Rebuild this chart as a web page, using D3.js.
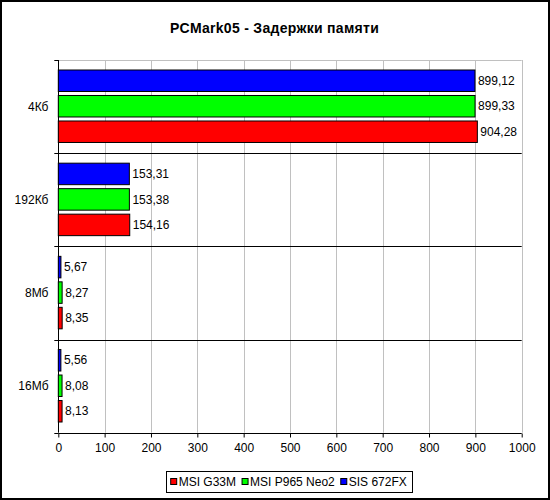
<!DOCTYPE html>
<html>
<head>
<meta charset="utf-8">
<script src="https://cdn.jsdelivr.net/npm/d3@7"></script>
<style>
html,body{margin:0;padding:0;background:#fff;}
svg{display:block;font-family:"Liberation Sans",Arial,sans-serif;}
</style>
</head>
<body>
<svg id="chart" width="550" height="500"></svg>
<script>
const title = "PCMark05 - Задержки памяти";
const categories = ["4Кб", "192Кб", "8Мб", "16Мб"];
const seriesNames = ["MSI G33M", "MSI P965 Neo2", "SIS 672FX"];
const seriesColors = ["#FF0000", "#00FF00", "#0000FF"];
const msiG33M = [904.28, 154.16, 8.35, 8.13];
const msiP965Neo2 = [899.33, 153.38, 8.27, 8.08];
const sis672FX = [899.12, 153.31, 5.67, 5.56];
const xTicks = [0, 100, 200, 300, 400, 500, 600, 700, 800, 900, 1000];

const seriesValues = [msiG33M, msiP965Neo2, sis672FX];
// drawing order top->bottom within a group: SIS, P965, G33M
const stackOrder = [2, 1, 0];

const svg = d3.select("#chart");
const plot = {left: 58.3, right: 521.7, top: 60, bottom: 432.7};

const x = d3.scaleLinear().domain([0, 1000]).range([plot.left, plot.right]);
const y = d3.scaleBand().domain(categories).range([plot.top, plot.bottom]).padding(0);
const bw = y.bandwidth();
const yInner = d3.scaleBand().domain(stackOrder).range([10, bw - 10.7]).paddingInner(0.157).paddingOuter(0);

// background
svg.append("rect").attr("x", 0).attr("y", 0).attr("width", 550).attr("height", 500).attr("fill", "#fff");
svg.append("rect").attr("x", 1).attr("y", 1).attr("width", 548).attr("height", 498)
  .attr("fill", "none").attr("stroke", "#000").attr("stroke-width", 2);

// title
svg.append("text").attr("x", 274.5).attr("y", 32.7).attr("text-anchor", "middle")
  .attr("font-size", "14px").attr("font-weight", "bold").attr("letter-spacing", "0.3px")
  .attr("fill", "#000").text(title);

// gridlines
svg.append("g").selectAll("line").data(xTicks.slice(1)).join("line")
  .attr("x1", d => Math.round(x(d)) + 0.5).attr("x2", d => Math.round(x(d)) + 0.5)
  .attr("y1", plot.top).attr("y2", plot.bottom)
  .attr("stroke", "#c0c0c0").attr("stroke-width", 1);
svg.append("line").attr("x1", plot.left).attr("x2", plot.right)
  .attr("y1", plot.top + 0.5).attr("y2", plot.top + 0.5).attr("stroke", "#c0c0c0");

// category separators
svg.append("g").selectAll("line").data(categories.slice(1)).join("line")
  .attr("x1", plot.left).attr("x2", plot.right)
  .attr("y1", d => Math.round(y(d)) + 0.5).attr("y2", d => Math.round(y(d)) + 0.5)
  .attr("stroke", "#000");

// x axis
const xAxis = d3.axisBottom(x).tickValues(xTicks).tickSize(4).tickPadding(6).tickFormat(d3.format("d"));
const gx = svg.append("g").attr("transform", `translate(0,${Math.round(plot.bottom) + 0.5})`).call(xAxis);
gx.select(".domain").attr("stroke", "#000").attr("d", `M${plot.left},0H${plot.right}`);
gx.selectAll(".tick line").attr("stroke", "#000");
gx.selectAll(".tick text").attr("font-size", "12px").attr("font-family", "Liberation Sans, Arial, sans-serif").attr("fill", "#000");

// y axis
const yTickPos = categories.map(c => y(c)).concat([plot.bottom]);
const gy = svg.append("g");
gy.append("line").attr("x1", Math.round(plot.left) + 0.5).attr("x2", Math.round(plot.left) + 0.5)
  .attr("y1", plot.top).attr("y2", plot.bottom).attr("stroke", "#000");
gy.selectAll("line.tk").data(yTickPos).join("line").attr("class", "tk")
  .attr("x1", plot.left - 4).attr("x2", plot.left)
  .attr("y1", d => Math.round(d) + 0.5).attr("y2", d => Math.round(d) + 0.5).attr("stroke", "#000");
gy.selectAll("text").data(categories).join("text")
  .attr("x", 48.5).attr("y", d => y(d) + bw / 2).attr("dy", "0.35em")
  .attr("text-anchor", "end").attr("font-size", "12px").attr("fill", "#000").text(d => d);

// bars
const fmt = v => d3.format(".2f")(v).replace(".", ",");
const groups = svg.append("g").selectAll("g").data(categories).join("g")
  .attr("transform", d => `translate(0,${y(d)})`);
groups.each(function(cat, ci) {
  const g = d3.select(this);
  stackOrder.forEach(si => {
    const v = seriesValues[si][ci];
    g.append("rect")
      .attr("x", x(0)).attr("y", yInner(si))
      .attr("width", x(v) - x(0)).attr("height", yInner.bandwidth())
      .attr("fill", seriesColors[si]).attr("stroke", "#000").attr("stroke-width", 1);
    g.append("text")
      .attr("x", x(v) + 3).attr("y", yInner(si) + yInner.bandwidth() / 2).attr("dy", "0.35em")
      .attr("font-size", "12px").attr("fill", "#000").text(fmt(v));
  });
});

// legend
const leg = svg.append("g");
const legTop = 471, legBottom = 492;
let cx = 170.7;
seriesNames.forEach((name, i) => {
  leg.append("rect").attr("x", cx).attr("y", 478.5).attr("width", 6).attr("height", 6)
    .attr("fill", seriesColors[i]).attr("stroke", "#000").attr("stroke-width", 1);
  const t = leg.append("text").attr("x", cx + 8).attr("y", 486).attr("font-size", "12px").attr("fill", "#000").text(name);
  const w = t.node().getComputedTextLength();
  cx = cx + 8 + w + 6;
});
leg.insert("rect", ":first-child").attr("x", 166.5).attr("y", legTop + 0.5)
  .attr("width", 246).attr("height", legBottom - legTop)
  .attr("fill", "#fff").attr("stroke", "#000").attr("stroke-width", 1);
</script>
</body>
</html>
